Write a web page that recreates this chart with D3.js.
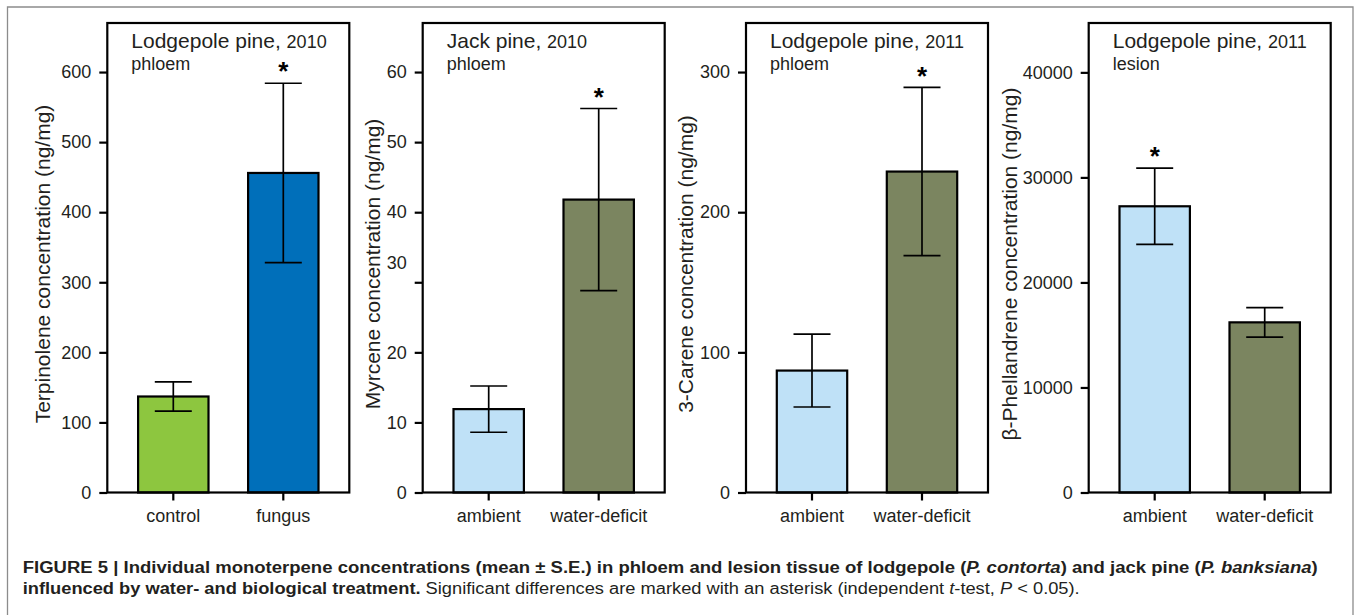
<!DOCTYPE HTML>
<html lang="en">
    <head>
        <meta charset="utf-8" />
        <title>Monoterpene concentrations</title>
        <style>
            body { margin: 0; background: #fff; }
            svg { display: block; font-family: 'Liberation Sans', Arial, sans-serif; }
        </style>
    </head>
    <body>
        <div id="chart"></div>
        <script src="https://d3js.org/d3.v7.min.js"></script>
        <script>
            const species = ['Lodgepole pine, ', 'Jack pine, ', 'Lodgepole pine, ', 'Lodgepole pine, '];
            const years = ['2010', '2010', '2011', '2011'];
            const tissues = ['phloem', 'phloem', 'phloem', 'lesion'];
            const yLabels = [
                'Terpinolene concentration (ng/mg)',
                'Myrcene concentration (ng/mg)',
                '3-Carene concentration (ng/mg)',
                'β-Phellandrene concentration (ng/mg)'
            ];
            const categories = [
                ['control', 'fungus'],
                ['ambient', 'water-deficit'],
                ['ambient', 'water-deficit'],
                ['ambient', 'water-deficit']
            ];
            const means = [[137, 456], [11.9, 41.8], [87, 229], [27250, 16200]];
            const errors = [[21, 128], [3.3, 13], [26, 60], [3630, 1400]];
            const significant = [[false, true], [false, true], [false, true], [true, false]];
            const yMax = [670, 67, 335, 44700];
            const yTicks = [
                [0, 100, 200, 300, 400, 500, 600],
                [0, 10, 20, 30, 40, 50, 60],
                [0, 100, 200, 300],
                [0, 10000, 20000, 30000, 40000]
            ];
            const barColors = [
                ['#8dc63f', '#006fba'],
                ['#bfe1f7', '#7b8560'],
                ['#bfe1f7', '#7b8560'],
                ['#bfe1f7', '#7b8560']
            ];

            const width = 1358;
            const height = 615;
            const boxLefts = [107.3, 422.7, 746, 1088.7];
            const boxTop = 23;
            const boxBottom = 492.5;
            const boxWidth = 242;
            const titleOffsets = [57, 43, 53, 72];
            const capHalf = 18.5;
            const ink = '#231f20';

            const svg = d3.select('#chart')
                .append('svg')
                .attr('width', width)
                .attr('height', height);

            svg.append('path')
                .attr('d', `M7.5,${height + 5}V7H1353V${height + 5}`)
                .attr('fill', 'none')
                .attr('stroke', '#8c8c8c')
                .attr('stroke-width', 1.3);

            species.forEach((name, p) => {
                const g = svg.append('g')
                    .attr('transform', `translate(${boxLefts[p]}, 0)`);

                const x = d3.scaleBand()
                    .domain(categories[p])
                    .range([0, boxWidth])
                    .paddingInner(0.36)
                    .paddingOuter(0.28);

                const y = d3.scaleLinear()
                    .domain([0, yMax[p]])
                    .range([boxBottom, boxTop]);

                const rows = categories[p].map((c, i) => ({
                    cat: c,
                    mean: means[p][i],
                    se: errors[p][i],
                    sig: significant[p][i],
                    color: barColors[p][i]
                }));

                g.selectAll('.bar')
                    .data(rows)
                    .enter()
                    .append('rect')
                    .attr('class', 'bar')
                    .attr('x', d => x(d.cat))
                    .attr('y', d => y(d.mean))
                    .attr('width', x.bandwidth())
                    .attr('height', d => y(0) - y(d.mean))
                    .attr('fill', d => d.color)
                    .attr('stroke', '#000')
                    .attr('stroke-width', 2.2);

                const err = g.selectAll('.err')
                    .data(rows)
                    .enter()
                    .append('g')
                    .attr('class', 'err')
                    .attr('transform', d => `translate(${x(d.cat) + x.bandwidth() / 2}, 0)`)
                    .attr('stroke', '#000')
                    .attr('stroke-width', 1.7);

                err.append('line')
                    .attr('y1', d => y(d.mean - d.se))
                    .attr('y2', d => y(d.mean + d.se));

                err.append('line')
                    .attr('x1', -capHalf)
                    .attr('x2', capHalf)
                    .attr('y1', d => y(d.mean + d.se))
                    .attr('y2', d => y(d.mean + d.se));

                err.append('line')
                    .attr('x1', -capHalf)
                    .attr('x2', capHalf)
                    .attr('y1', d => y(d.mean - d.se))
                    .attr('y2', d => y(d.mean - d.se));

                g.selectAll('.star')
                    .data(rows.filter(d => d.sig))
                    .enter()
                    .append('text')
                    .attr('class', 'star')
                    .attr('x', d => x(d.cat) + x.bandwidth() / 2)
                    .attr('y', d => y(d.mean + d.se) - 2.8)
                    .attr('text-anchor', 'middle')
                    .attr('font-size', 26)
                    .attr('font-weight', 'bold')
                    .attr('fill', '#000')
                    .text('*');

                g.append('rect')
                    .attr('x', 0)
                    .attr('y', boxTop)
                    .attr('width', boxWidth)
                    .attr('height', boxBottom - boxTop)
                    .attr('fill', 'none')
                    .attr('stroke', '#000')
                    .attr('stroke-width', 2.2);

                const yAxis = g.append('g')
                    .call(d3.axisLeft(y)
                        .tickValues(yTicks[p])
                        .tickFormat(d3.format('d'))
                        .tickSize(8)
                        .tickPadding(8));
                yAxis.select('.domain').remove();
                yAxis.selectAll('line').attr('stroke', '#000').attr('stroke-width', 2.2);
                yAxis.selectAll('text')
                    .attr('font-family', null)
                    .attr('font-size', 18)
                    .attr('fill', ink)
                    // the source figure lifts the "30" label of the myrcene panel
                    .attr('dy', d => (p === 1 && d === 30) ? '-0.78em' : '0.32em');

                const xAxis = g.append('g')
                    .attr('transform', `translate(0, ${boxBottom})`)
                    .call(d3.axisBottom(x).tickSize(8).tickPadding(9));
                xAxis.select('.domain').remove();
                xAxis.selectAll('line').attr('stroke', '#000').attr('stroke-width', 2.2);
                xAxis.selectAll('text')
                    .attr('font-family', null)
                    .attr('font-size', 18)
                    .attr('fill', ink);

                const title = g.append('text')
                    .attr('x', 24)
                    .attr('y', 48.3)
                    .attr('fill', ink);
                title.append('tspan').attr('font-size', 21).text(name);
                title.append('tspan').attr('font-size', 18).text(years[p]);

                g.append('text')
                    .attr('x', 24)
                    .attr('y', 70)
                    .attr('font-size', 18)
                    .attr('fill', ink)
                    .text(tissues[p]);

                g.append('text')
                    .attr('transform', `translate(${-titleOffsets[p]}, 264) rotate(-90)`)
                    .attr('text-anchor', 'middle')
                    .attr('font-size', 21)
                    .attr('fill', ink)
                    .text(yLabels[p]);
            });

            const caption1 = svg.append('text')
                .attr('x', 22.7)
                .attr('y', 573)
                .attr('font-size', 16)
                .attr('font-weight', 'bold')
                .attr('fill', ink)
                .attr('textLength', 1295)
                .attr('lengthAdjust', 'spacingAndGlyphs');
            caption1.append('tspan').text('FIGURE 5 | Individual monoterpene concentrations (mean ± S.E.) in phloem and lesion tissue of lodgepole (');
            caption1.append('tspan').attr('font-style', 'italic').text('P. contorta');
            caption1.append('tspan').text(') and jack pine (');
            caption1.append('tspan').attr('font-style', 'italic').text('P. banksiana');
            caption1.append('tspan').text(')');

            const caption2 = svg.append('text')
                .attr('x', 22.7)
                .attr('y', 594)
                .attr('font-size', 16)
                .attr('fill', ink)
                .attr('textLength', 1057)
                .attr('lengthAdjust', 'spacingAndGlyphs');
            caption2.append('tspan').attr('font-weight', 'bold').text('influenced by water- and biological treatment.');
            caption2.append('tspan').text(' Significant differences are marked with an asterisk (independent ');
            caption2.append('tspan').attr('font-style', 'italic').text('t');
            caption2.append('tspan').text('-test, ');
            caption2.append('tspan').attr('font-style', 'italic').text('P');
            caption2.append('tspan').text(' < 0.05).');
        </script>
    </body>
</html>
